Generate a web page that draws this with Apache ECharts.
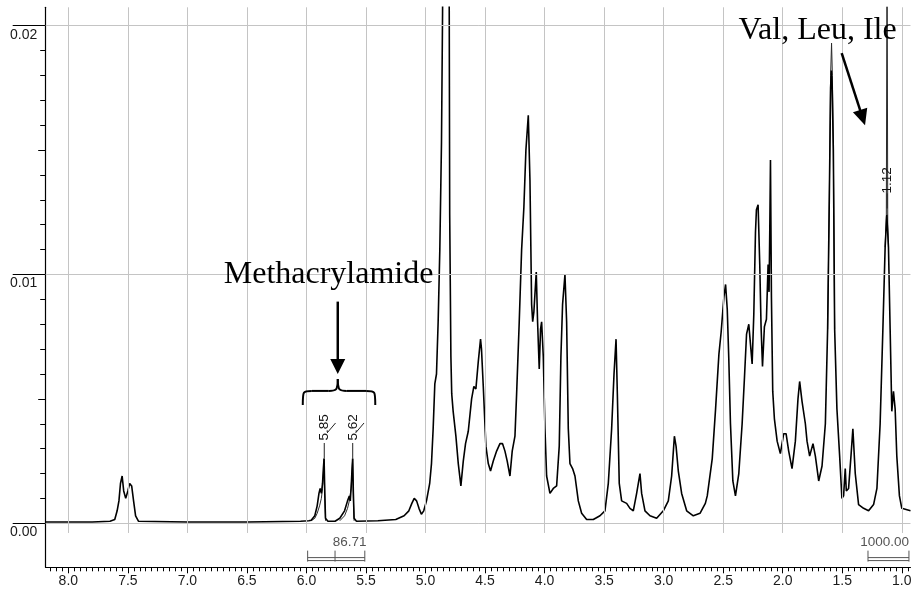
<!DOCTYPE html>
<html><head><meta charset="utf-8">
<script src="https://cdn.jsdelivr.net/npm/echarts@6/dist/echarts.min.js"></script>
<style>html,body{margin:0;padding:0;background:#fff}#c{width:914px;height:597px}</style>
</head><body><div id="c"></div>
<script>
// ---------- data (chemical shift in ppm, intensity) ----------
const ppmA = [8.19,7.80,7.65,7.61,7.59,7.575,7.562,7.548,7.535,7.518,7.50,7.485,7.468,7.452,7.435,7.41,7.0,6.5,6.05,5.98,5.96,5.93,5.91,5.895,5.885,5.875,5.865,5.858,5.852,5.846,5.84,5.82,5.76,5.72,5.68,5.655,5.64,5.632,5.624,5.617,5.612,5.606,5.60,5.58,5.40,5.25,5.18,5.14,5.115,5.095,5.075,5.055,5.035,5.015,4.992,4.965,4.95,4.936,4.922,4.908,4.894,4.88,4.866,4.857,4.845,4.83,4.815,4.803,4.797,4.787,4.78,4.768,4.745,4.725,4.703,4.683,4.664,4.641,4.613,4.594,4.577,4.557,4.538,4.53,4.515,4.493,4.473,4.454,4.431,4.403,4.375,4.353,4.333,4.314,4.291,4.272,4.249,4.235,4.213,4.193,4.174,4.157,4.137,4.123,4.109,4.10,4.09,4.07,4.059,4.045,4.034,4.025,4.011,3.997,3.983,3.955,3.927,3.899,3.877,3.863,3.849,3.829,3.815,3.801,3.787,3.765,3.745,3.717,3.689,3.647,3.591,3.535,3.493,3.465,3.437,3.417,3.40,3.389,3.373,3.353,3.311,3.283,3.255,3.227,3.199,3.185,3.157,3.115,3.059,3.003,2.961,2.933,2.910,2.896,2.877,2.849,2.807,2.751,2.695,2.65,2.634,2.592,2.564,2.536,2.517,2.494,2.480,2.466,2.453,2.439,2.419,2.397,2.369,2.341,2.321,2.304,2.285,2.271,2.257,2.243,2.229,2.221,2.207,2.193,2.182,2.170,2.154,2.137,2.123,2.115,2.109,2.103,2.095,2.084,2.070,2.047,2.020,1.992,1.972,1.950,1.922,1.894,1.872,1.858,1.838,1.810,1.796,1.774,1.746,1.726,1.698,1.670,1.642,1.623,1.609,1.598,1.592,1.585,1.575,1.564,1.545,1.522,1.503,1.489,1.475,1.466,1.447,1.427,1.411,1.391,1.363,1.321,1.279,1.237,1.209,1.182,1.159,1.140,1.126,1.112,1.098,1.084,1.070,1.056,1.042,1.020,1.000,0.927];
const intA = [0.00005,0.00005,0.00008,0.00015,0.0005,0.0009,0.0016,0.0019,0.0013,0.0010,0.0013,0.0016,0.0015,0.0009,0.0003,0.00008,0.00005,0.00005,0.00008,0.0001,0.00012,0.0003,0.0007,0.0012,0.0014,0.0012,0.0016,0.0022,0.0026,0.0012,0.0002,0.00008,0.00008,0.0002,0.0005,0.0009,0.0011,0.0009,0.0015,0.0022,0.0026,0.0012,0.0002,0.00008,0.0001,0.00015,0.0003,0.0005,0.0008,0.0010,0.0009,0.0006,0.00036,0.0005,0.0009,0.0016,0.0024,0.0038,0.0056,0.0060,0.0081,0.0110,0.0153,0.0205,0.030,0.040,0.035,0.025,0.0124,0.0067,0.0052,0.0045,0.0035,0.0024,0.0015,0.0025,0.0032,0.0037,0.0050,0.0055,0.0054,0.0065,0.0074,0.0070,0.0055,0.0031,0.0024,0.0021,0.0025,0.0029,0.0032,0.0032,0.0029,0.0025,0.0019,0.0029,0.0035,0.0052,0.0081,0.0110,0.0127,0.0150,0.0164,0.0138,0.0088,0.0081,0.0085,0.0101,0.0081,0.0062,0.0078,0.0081,0.0067,0.0038,0.0019,0.0012,0.0014,0.0015,0.0031,0.0067,0.0088,0.0100,0.0081,0.0038,0.0024,0.0022,0.0019,0.0009,0.0004,0.00015,0.00015,0.0003,0.0005,0.0016,0.0038,0.0060,0.0074,0.0052,0.0016,0.0009,0.0008,0.0006,0.0005,0.0012,0.0020,0.0012,0.0005,0.0003,0.0002,0.0005,0.0009,0.0019,0.0035,0.0031,0.0021,0.0012,0.0005,0.0003,0.0004,0.0008,0.0011,0.0026,0.0046,0.0068,0.0077,0.0091,0.0096,0.0086,0.0066,0.0040,0.0017,0.0011,0.0020,0.0040,0.0059,0.0076,0.0080,0.0072,0.0064,0.0084,0.0117,0.0126,0.0128,0.0104,0.0079,0.0063,0.0079,0.0082,0.0104,0.0093,0.0117,0.0146,0.0091,0.0053,0.0042,0.0033,0.0028,0.0036,0.0036,0.0029,0.0022,0.0033,0.0050,0.0057,0.0049,0.0040,0.0033,0.0027,0.0032,0.0027,0.0017,0.0023,0.0040,0.0078,0.0130,0.0175,0.0182,0.0176,0.0150,0.0078,0.0046,0.0027,0.0010,0.0011,0.0022,0.0013,0.0014,0.0027,0.0038,0.0020,0.00075,0.0006,0.0005,0.00075,0.0014,0.0040,0.0078,0.0111,0.0124,0.0111,0.0078,0.0045,0.0053,0.0046,0.0027,0.0011,0.0006,0.0005];
// second overlaid spectrum, only where it departs from the first (null = gap)
const ppmB = [5.96,5.93,5.91,5.89,5.875,5.865,5.858,5.852,5.846,5.84,null,5.72,5.68,5.655,5.64,5.625,5.617,5.612,5.606,5.60,null,1.623,1.609,1.598,1.590,1.583,1.575,1.564,null,1.140,1.130,1.126,1.124,1.122,1.118,1.112];
const intB = [0.0001,0.0002,0.0004,0.0007,0.0010,0.0014,0.0020,0.0026,0.0010,0.0001,null,0.0001,0.0003,0.0006,0.0009,0.0014,0.0021,0.0026,0.0010,0.0001,null,0.0078,0.0130,0.0180,0.0193,0.0180,0.0150,0.0078,null,0.0111,0.0124,0.0200,0.0300,0.0200,0.0120,0.0111];
const xMajorTicks = [1.0,1.5,2.0,2.5,3.0,3.5,4.0,4.5,5.0,5.5,6.0,6.5,7.0,7.5,8.0];
const yMajorTicks = [0, 0.01, 0.02];
const peakLabels = [{text:'5.85', ppm:5.848, y:0.00385}, {text:'5.62', ppm:5.609, y:0.00385}, {text:'1.12', ppm:1.123, y:0.01378}];
const integrals = [{text:'86.71', from:5.99, mid:5.76, to:5.51, labelPpm:5.638}, {text:'1000.00', from:1.284, mid:null, to:0.94, labelPpm:1.145}];

const X_MIN = 0.927, X_MAX = 8.19, Y_MIN = -0.00177, Y_MAX = 0.02074;

const xMinor = []; for (let k = 19; k <= 163; k++) xMinor.push(Math.round(k * 5) / 100);
const yMinor = []; for (let k = 0; k <= 20; k++) yMinor.push(k / 1000);
const yMid = [0.005, 0.015];

const chart = echarts.init(document.getElementById('c'), null, {renderer: 'canvas'});
const FONT = '"Liberation Sans", Arial, sans-serif';

const dataA = ppmA.map((p, i) => [p, intA[i]]);
const segsB = []; let cur = [];
ppmB.forEach((p, i) => { if (p === null) { if (cur.length) segsB.push(cur); cur = []; } else cur.push([p, intB[i]]); });
if (cur.length) segsB.push(cur);

const gridLines = [];
xMajorTicks.forEach(v => gridLines.push([{coord: [v, Y_MAX]}, {coord: [v, -0.00039]}]));
yMajorTicks.forEach(v => gridLines.push([{coord: [X_MAX, v]}, {coord: [X_MIN, v]}]));

function xAx(extra) {
  return Object.assign({type: 'value', inverse: true, min: X_MIN, max: X_MAX, position: 'bottom', splitLine: {show: false}}, extra);
}
function yAx(extra) {
  return Object.assign({type: 'value', min: Y_MIN, max: Y_MAX, position: 'left', splitLine: {show: false}}, extra);
}

const series = [
  {type: 'line', data: [], z: 1, silent: true,
   markLine: {silent: true, symbol: ['none', 'none'], animation: false, label: {show: false},
     lineStyle: {color: '#c4c4c4', width: 1, type: 'solid'}, emphasis: {disabled: true}, data: gridLines}},
  {type: 'line', data: dataA, showSymbol: false, clip: true, z: 3, silent: true,
   lineStyle: {color: '#000', width: 1.6}}
];
segsB.forEach(s => series.push({type: 'line', data: s, showSymbol: false, clip: true, z: 2, silent: true,
   lineStyle: {color: '#2a2a2a', width: 1}}));

chart.setOption({
  animation: false,
  backgroundColor: '#fff',
  grid: {left: 45.7, right: 3.5, top: 7.3, bottom: 29.7, containLabel: false, outerBoundsMode: 'none'},
  xAxis: [
    xAx({axisLine: {show: true, onZero: false, lineStyle: {color: '#000', width: 1}},
         axisTick: {show: true, customValues: xMajorTicks, length: 6, lineStyle: {color: '#000'}},
         axisLabel: {show: true, customValues: xMajorTicks, formatter: v => v.toFixed(1), fontSize: 14, color: '#1a1a1a', margin: 7, fontFamily: FONT, hideOverlap: false}}),
    xAx({axisLine: {show: false, onZero: false},
         axisTick: {show: true, customValues: xMinor, length: 4, lineStyle: {color: '#000'}},
         axisLabel: {show: false}})
  ],
  yAxis: [
    yAx({axisLine: {show: true, onZero: false, lineStyle: {color: '#000', width: 1.2}},
         axisTick: {show: true, customValues: yMajorTicks, length: 33, lineStyle: {color: '#000'}},
         axisLabel: {show: true, customValues: yMajorTicks, formatter: v => v.toFixed(2), align: 'left', verticalAlign: 'top', margin: 35.7, padding: [2, 0, 0, 0], fontSize: 14, color: '#1a1a1a', fontFamily: FONT}}),
    yAx({axisLine: {show: false, onZero: false},
         axisTick: {show: true, customValues: yMid, length: 7.5, lineStyle: {color: '#000'}},
         axisLabel: {show: false}}),
    yAx({axisLine: {show: false, onZero: false},
         axisTick: {show: true, customValues: yMinor, length: 5.5, lineStyle: {color: '#000'}},
         axisLabel: {show: false}})
  ],
  series: series
});

// ---------- annotations, anchored in data coordinates ----------
function px(p, y) { return chart.convertToPixel({xAxisIndex: 0, yAxisIndex: 0}, [p, y]); }
const G = [];
function line(a, b, w, color) {
  G.push({type: 'line', silent: true, z: 10, shape: {x1: a[0], y1: a[1], x2: b[0], y2: b[1]}, style: {stroke: color || '#000', lineWidth: w || 1}});
}
function curve(p1, c1, c2, p2, w) {
  G.push({type: 'bezierCurve', silent: true, z: 10, shape: {x1: p1[0], y1: p1[1], cpx1: c1[0], cpy1: c1[1], cpx2: c2[0], cpy2: c2[1], x2: p2[0], y2: p2[1]}, style: {stroke: '#000', lineWidth: w, fill: null}});
}
function text(t, p, opts) {
  G.push({type: 'text', silent: true, z: 10, x: p[0], y: p[1], rotation: opts.rotation || 0,
    style: {text: t, fill: opts.color || '#000', font: opts.font, textAlign: opts.align || 'center', textVerticalAlign: opts.valign || 'middle'}});
}
function arrow(a, b, w, headLen, headW) {
  const dx = b[0] - a[0], dy = b[1] - a[1], L = Math.hypot(dx, dy), ux = dx / L, uy = dy / L;
  const base = [b[0] - ux * headLen, b[1] - uy * headLen];
  line(a, [base[0] + ux * 2, base[1] + uy * 2], w);
  G.push({type: 'polygon', silent: true, z: 10, shape: {points: [b, [base[0] - uy * headW / 2, base[1] + ux * headW / 2], [base[0] + uy * headW / 2, base[1] - ux * headW / 2]]}, style: {fill: '#000'}});
}

const SERIF = '32px "Liberation Serif", "Times New Roman", serif';
text('Methacrylamide', px(5.814, 0.01001), {font: SERIF});
arrow(px(5.737, 0.00891), px(5.737, 0.0060), 2.5, 15, 15);
(function brace() {
  const l = px(6.031, 0.00475), m = px(5.737, 0.00580), r = px(5.422, 0.00475), f = px(5.737, 0.00532)[1];
  curve(l, [l[0], f], [l[0], f], [l[0] + 9, f], 2);
  line([l[0] + 9, f], [m[0] - 9, f], 2);
  curve([m[0] - 9, f], [m[0] - 2, f], [m[0], f], m, 2);
  curve(m, [m[0], f], [m[0] + 2, f], [m[0] + 9, f], 2);
  line([m[0] + 9, f], [r[0] - 9, f], 2);
  curve([r[0] - 9, f], [r[0], f], [r[0], f], r, 2);
})();

text('Val, Leu, Ile', px(1.707, 0.01979), {font: SERIF});
arrow(px(1.505, 0.0189), px(1.309, 0.0160), 2.5, 16, 15);

peakLabels.forEach((pl, i) => {
  const c = px(pl.ppm, pl.y);
  text(pl.text, c, {font: '13.5px ' + FONT, rotation: Math.PI / 2, color: '#111'});
  if (i < 2) {
    line([c[0] - 0.3, c[1] + 15.5], [c[0] - 0.3, c[1] + 30.5], 1, '#222');
    line([c[0] + 2.5, c[1] + 5.5], [c[0] + 11, c[1] - 4.5], 1, '#222');
  } else {
    line([c[0], c[1] + 13], [c[0], c[1] + 28], 1, '#222');
  }
});

integrals.forEach(ig => {
  const t = px(ig.labelPpm, -0.00075);
  text(ig.text, t, {font: '13.5px ' + FONT, color: '#555'});
  const a = px(ig.from, -0.00110), b = px(ig.to, -0.00154);
  const y1 = px(ig.from, -0.00138)[1], y2 = px(ig.from, -0.00150)[1];
  line([a[0], a[1]], [a[0], b[1]], 1, '#555');
  line([b[0], a[1]], [b[0], b[1]], 1, '#555');
  if (ig.mid !== null) { const m = px(ig.mid, 0)[0]; line([m, a[1]], [m, b[1]], 1, '#555'); }
  line([a[0], y1], [b[0], y1], 1, '#555');
  line([a[0], y2], [b[0], y2], 1, '#555');
});

chart.setOption({graphic: {elements: G}});
</script></body></html>
